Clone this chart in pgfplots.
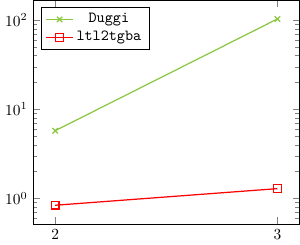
\documentclass[border=0pt]{standalone}
\usepackage{pgfplots}
\pgfplotsset{compat=1.18}
\definecolor{dgreen}{rgb}{0.55,0.78,0.25}
\begin{document}
\begin{tikzpicture}
\begin{axis}[
  scale only axis,
  width=173pt, height=145pt,
  ymode=log,
  xtick={2,3},
  legend pos=north west,
  legend style={font=\ttfamily},
]
\addplot[color=dgreen, thick, mark=x, mark size=2.5pt, mark options={dgreen}] coordinates {(2,5.75) (3,103)};
\addlegendentry{Duggi}
\addplot[color=red, thick, mark=square, mark size=2.5pt, mark options={red}] coordinates {(2,0.84) (3,1.29)};
\addlegendentry{ltl2tgba}
\end{axis}
\end{tikzpicture}
\end{document}
